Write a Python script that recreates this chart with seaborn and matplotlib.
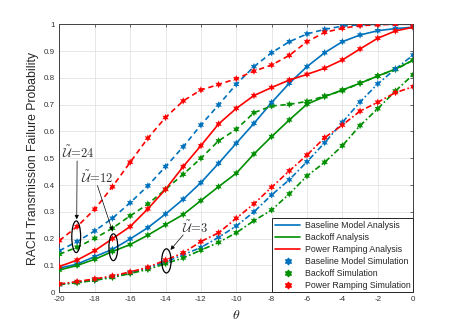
import numpy as np
import pandas as pd
import seaborn as sns
import matplotlib
matplotlib.use("Agg")
import matplotlib.pyplot as plt
from matplotlib.lines import Line2D
from matplotlib.patches import Ellipse

theta = list(range(-20, 1))

# U = 24 (dashed)
base_24 = [0.155, 0.189, 0.229, 0.276, 0.334, 0.397, 0.469, 0.543, 0.624, 0.699, 0.776,
           0.842, 0.894, 0.935, 0.964, 0.981, 0.993, 0.998, 1.0, 1.0, 1.0]
back_24 = [0.142, 0.168, 0.201, 0.239, 0.285, 0.329, 0.384, 0.44, 0.50, 0.565, 0.608,
           0.67, 0.695, 0.701, 0.712, 0.732, 0.752, 0.78, 0.807, 0.831, 0.866]
pr_24 = [0.193, 0.245, 0.31, 0.394, 0.485, 0.575, 0.652, 0.714, 0.755, 0.775, 0.797,
         0.825, 0.848, 0.884, 0.935, 0.97, 0.985, 0.995, 0.998, 1.0, 1.0]

# U = 12 (solid)
base_12 = [0.09, 0.105, 0.133, 0.16, 0.199, 0.241, 0.292, 0.347, 0.409, 0.481, 0.556,
           0.63, 0.708, 0.78, 0.842, 0.894, 0.935, 0.96, 0.976, 0.984, 0.989]
back_12 = [0.083, 0.10, 0.123, 0.152, 0.178, 0.213, 0.252, 0.29, 0.342, 0.394, 0.444,
           0.516, 0.581, 0.643, 0.702, 0.73, 0.755, 0.78, 0.807, 0.833, 0.866]
pr_12 = [0.096, 0.12, 0.155, 0.20, 0.245, 0.311, 0.384, 0.469, 0.547, 0.628, 0.686,
         0.734, 0.764, 0.792, 0.813, 0.836, 0.867, 0.908, 0.948, 0.975, 0.989]

# U = 3 (dash-dot)
base_3 = [0.028, 0.037, 0.045, 0.057, 0.072, 0.09, 0.113, 0.14, 0.167, 0.205, 0.247,
          0.30, 0.363, 0.42, 0.487, 0.558, 0.634, 0.71, 0.778, 0.833, 0.885]
back_3 = [0.03, 0.035, 0.045, 0.055, 0.07, 0.085, 0.107, 0.128, 0.157, 0.186, 0.222,
          0.267, 0.307, 0.367, 0.434, 0.485, 0.547, 0.622, 0.685, 0.751, 0.812]
pr_3 = [0.031, 0.04, 0.05, 0.061, 0.076, 0.093, 0.12, 0.147, 0.189, 0.222, 0.276,
        0.33, 0.392, 0.453, 0.512, 0.577, 0.624, 0.676, 0.709, 0.745, 0.767]

schemes = ["Baseline Model", "Backoff", "Power Ramping"]
groups = ["24", "12", "3"]
series = {
    ("Baseline Model", "24"): base_24, ("Backoff", "24"): back_24, ("Power Ramping", "24"): pr_24,
    ("Baseline Model", "12"): base_12, ("Backoff", "12"): back_12, ("Power Ramping", "12"): pr_12,
    ("Baseline Model", "3"): base_3, ("Backoff", "3"): back_3, ("Power Ramping", "3"): pr_3,
}

rows = []
for (s, g), vals in series.items():
    for t, v in zip(theta, vals):
        rows.append({"theta": t, "p": v, "scheme": s, "U": g})
df = pd.DataFrame(rows)

sns.set_style("whitegrid")
plt.rcParams["font.family"] = ["Liberation Sans", "DejaVu Sans"]
plt.rcParams["mathtext.fontset"] = "cm"

palette = {"Baseline Model": "#0072BD", "Backoff": "#008F00", "Power Ramping": "#FF0000"}
dashes = {"24": (3.2, 2.2), "12": "", "3": (3.5, 1.5, 1, 1.5)}

fig = plt.figure(figsize=(4.57, 3.28), dpi=100)
ax = fig.add_axes([0.13, 0.109, 0.774, 0.817])

sns.lineplot(data=df, x="theta", y="p", hue="scheme", style="U", palette=palette,
             dashes=dashes, linewidth=1.2, legend=False, ax=ax, sort=True,
             estimator=None, units=None)

hexagram = (6, 1, 0)
sns.scatterplot(data=df, x="theta", y="p", hue="scheme", palette=palette,
                marker=hexagram, s=28, edgecolor="none", legend=False, ax=ax, zorder=5)

ax.set_xlim(-20, 0)
ax.set_ylim(0, 1)
ax.set_xticks(range(-20, 1, 2))
ax.set_xticklabels([str(v) for v in range(-20, 1, 2)])
ax.set_yticks(np.arange(0, 1.01, 0.1))
ax.set_yticklabels(["0"] + [f"{v:.1f}" for v in np.arange(0.1, 0.95, 0.1)] + ["1"])
ax.tick_params(axis="both", which="both", direction="in", length=2.5, width=0.5,
               labelsize=5.8, colors="#333333", top=True, right=True, pad=3)
ax.grid(True, color="#e3e3e3", linewidth=0.6)
for sp in ax.spines.values():
    sp.set_color("#404040")
    sp.set_linewidth(0.7)

ax.set_xlabel(r"$\theta$", fontsize=10, labelpad=3)
ax.set_ylabel("RACH Transmission Failure Probability", fontsize=8.8, color="#262626", labelpad=4)

# annotations
for (cx, cy, w, h) in [(-19.05, 0.207, 0.5, 0.118), (-16.95, 0.168, 0.5, 0.1), (-13.95, 0.117, 0.53, 0.09)]:
    ax.add_patch(Ellipse((cx, cy), w, h, fill=False, edgecolor="black", linewidth=0.9, zorder=6))

arrowprops = dict(arrowstyle="-|>", color="black", linewidth=0.5, mutation_scale=6,
                  shrinkA=0, shrinkB=0)
ax.annotate("", xy=(-19.02, 0.272), xytext=(-19.0, 0.49), arrowprops=arrowprops, zorder=7)
ax.annotate("", xy=(-17.0, 0.228), xytext=(-17.85, 0.398), arrowprops=arrowprops, zorder=7)
ax.annotate("", xy=(-13.72, 0.158), xytext=(-13.0, 0.214), arrowprops=arrowprops, zorder=7)
ax.text(-18.95, 0.52, r"$\tilde{\mathcal{U}}\!=\!24$", fontsize=9, ha="center", va="center", color="#333333")
ax.text(-17.85, 0.428, r"$\tilde{\mathcal{U}}\!=\!12$", fontsize=9, ha="center", va="center", color="#333333")
ax.text(-12.35, 0.242, r"$\tilde{\mathcal{U}}\!=\!3$", fontsize=9, ha="center", va="center", color="#333333")

handles = []
labels = []
for s in schemes:
    handles.append(Line2D([], [], color=palette[s], linewidth=1.2))
    labels.append(f"{s} Analysis")
for s in schemes:
    handles.append(Line2D([], [], color=palette[s], marker=hexagram, linestyle="none", markersize=5))
    labels.append(f"{s} Simulation")
leg = ax.legend(handles, labels, loc="lower right", fontsize=6.3, frameon=True, fancybox=False,
                borderaxespad=0, handlelength=2.9, handletextpad=0.5, labelspacing=0.34,
                borderpad=0.3)
leg.get_frame().set_edgecolor("#262626")
leg.get_frame().set_linewidth(0.7)
leg.get_frame().set_alpha(1)
for t in leg.get_texts():
    t.set_color("#262626")

fig.savefig("out.png", dpi=100)
